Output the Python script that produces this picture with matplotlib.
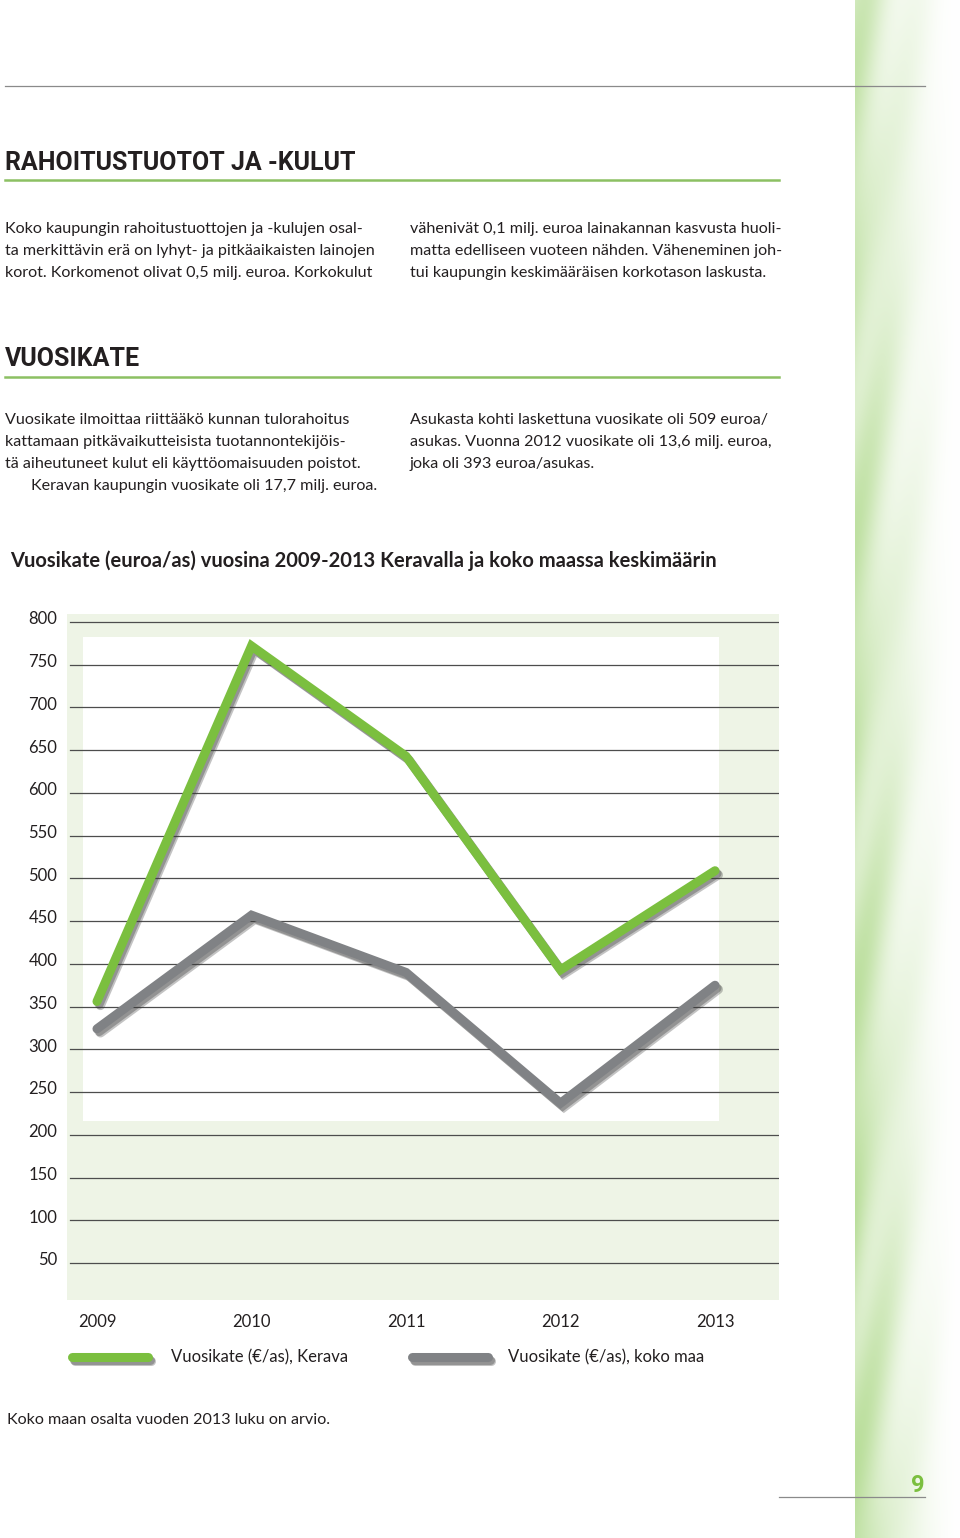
import numpy as np
import matplotlib
matplotlib.use("Agg")
import matplotlib.pyplot as plt
import matplotlib.patheffects as pe
from matplotlib.patches import Rectangle
from matplotlib.transforms import ScaledTranslation

# Chart data
years = [2009, 2010, 2011, 2012, 2013]
kerava = [356, 772, 643, 393, 509]
koko_maa = [324, 457, 390, 237, 375]
y_ticks = [50, 100, 150, 200, 250, 300, 350, 400, 450, 500, 550, 600, 650, 700, 750, 800]
series_labels = ["Vuosikate (€/as), Kerava", "Vuosikate (€/as), koko maa"]

TEXT = "#231f20"
GREEN = "#7bbf3f"
GRAY = "#808285"
BODY_FONT = ["Lato", "DejaVu Sans"]
HEAD_FONT = ["Roboto", "DejaVu Sans"]

fig = plt.figure(figsize=(9.6, 15.38), dpi=100)

# Page layer in pixel coordinates
page = fig.add_axes([0, 0, 1, 1])
page.set_xlim(0, 960)
page.set_ylim(1538, 0)
page.axis("off")

# Decorative green strip on the right edge
h, w = 1538, 105
yy, xx = np.mgrid[0:h, 0:w]
fade = np.clip(1 - xx / w, 0, 1) ** 1.6
streak = 0.75 + 0.25 * np.sin((xx + 0.18 * yy) / 9.0) * np.cos(yy / 140.0)
strength = np.clip(fade * streak * (0.75 + 0.25 * yy / h), 0, 1)
base = np.array([1.0, 1.0, 1.0])
tint = np.array([0.62, 0.82, 0.45])
img = base + (tint - base) * strength[..., None] * 0.85
page.imshow(img, extent=(855, 960, 1538, 0), aspect="auto", zorder=0)

# Rules
page.plot([5, 925], [86, 86], color="#8a8a8a", lw=0.9)
page.plot([5, 779], [180, 180], color="#8cc063", lw=1.8)
page.plot([5, 779], [377, 377], color="#8cc063", lw=1.8)
page.plot([779, 925], [1497, 1497], color="#8a8a8a", lw=0.9)

# Headings
page.text(5, 163, "RAHOITUSTUOTOT JA -KULUT", fontsize=18, fontweight="bold",
          family=HEAD_FONT, color=TEXT, va="center")
page.text(5, 359, "VUOSIKATE", fontsize=18, fontweight="bold",
          family=HEAD_FONT, color=TEXT, va="center")

body_kw = dict(fontsize=11.6, family=BODY_FONT, color=TEXT, va="center")
left1 = ["Koko kaupungin rahoitustuottojen ja -kulujen osal-",
         "ta merkittävin erä on lyhyt- ja pitkäaikaisten lainojen",
         "korot. Korkomenot olivat 0,5 milj. euroa. Korkokulut"]
right1 = ["vähenivät 0,1 milj. euroa lainakannan kasvusta huoli-",
          "matta edelliseen vuoteen nähden. Väheneminen joh-",
          "tui kaupungin keskimääräisen korkotason laskusta."]
for i, (a, b) in enumerate(zip(left1, right1)):
    page.text(5, 229 + 22 * i, a, **body_kw)
    page.text(410, 229 + 22 * i, b, **body_kw)

left2 = ["Vuosikate ilmoittaa riittääkö kunnan tulorahoitus",
         "kattamaan pitkävaikutteisista tuotannontekijöis-",
         "tä aiheutuneet kulut eli käyttöomaisuuden poistot."]
for i, a in enumerate(left2):
    page.text(5, 420 + 22 * i, a, **body_kw)
page.text(31, 486, "Keravan kaupungin vuosikate oli 17,7 milj. euroa.", **body_kw)
right2 = ["Asukasta kohti laskettuna vuosikate oli 509 euroa/",
          "asukas. Vuonna 2012 vuosikate oli 13,6 milj. euroa,",
          "joka oli 393 euroa/asukas."]
for i, b in enumerate(right2):
    page.text(410, 420 + 22 * i, b, **body_kw)

page.text(10, 561, "Vuosikate (euroa/as) vuosina 2009-2013 Keravalla ja koko maassa keskimäärin",
          fontsize=14.5, fontweight="bold", family=BODY_FONT, color=TEXT, va="center")

# Chart axes: 67..779 px wide, 614..1300 px tall
ax = fig.add_axes([67 / 960, 1 - 1300 / 1538, (779 - 67) / 960, (1300 - 614) / 1538])
ax.set_facecolor("#eef4e6")
ax.set_xlim(2008.806, 2013.414)
ax.set_ylim(6.7, 809.4)
for s in ax.spines.values():
    s.set_visible(False)

# Inner white panel
ax.add_patch(Rectangle((16 / 712, 179 / 686), 636 / 712, 484 / 686,
                       transform=ax.transAxes, facecolor="white", edgecolor="none", zorder=0.5))

for v in y_ticks:
    ax.axhline(v, xmin=3 / 712, xmax=1, color="#4d4d4d", lw=0.9, zorder=1)

ax.set_yticks(y_ticks)
ax.set_yticklabels([str(v) for v in y_ticks])
ax.set_xticks(years)
ax.set_xticklabels([str(y) for y in years])
ax.tick_params(axis="y", length=0, pad=7, labelsize=12, labelcolor=TEXT)
ax.tick_params(axis="x", length=0, pad=10, labelsize=12, labelcolor=TEXT)
for lab in ax.get_xticklabels() + ax.get_yticklabels():
    lab.set_family(BODY_FONT)
# labels sit a little above their grid lines in the original
lift = ScaledTranslation(0, 3 / 72, fig.dpi_scale_trans)
for lab in ax.get_yticklabels():
    lab.set_transform(lab.get_transform() + lift)

shadow = [pe.SimpleLineShadow(offset=(2.5, -3), shadow_color="#3a3a3a", alpha=0.3),
          pe.SimpleLineShadow(offset=(1.5, -2), shadow_color="#3a3a3a", alpha=0.35),
          pe.Normal()]
ax.plot(years, koko_maa, color=GRAY, lw=6.5, solid_joinstyle="miter",
        solid_capstyle="round", path_effects=shadow, zorder=3)
ax.plot(years, kerava, color=GREEN, lw=6.5, solid_joinstyle="miter",
        solid_capstyle="round", path_effects=shadow, zorder=4)

# Legend
page.plot([72, 148], [1357, 1357], color=GREEN, lw=6.5, solid_capstyle="round",
          path_effects=shadow, zorder=3)
page.plot([412, 488], [1357, 1357], color=GRAY, lw=6.5, solid_capstyle="round",
          path_effects=shadow, zorder=3)
page.text(171, 1357, series_labels[0], fontsize=12, family=BODY_FONT, color=TEXT, va="center")
page.text(508, 1357, series_labels[1], fontsize=12, family=BODY_FONT, color=TEXT, va="center")

page.text(7, 1420, "Koko maan osalta vuoden 2013 luku on arvio.", **body_kw)
page.text(918, 1485, "9", fontsize=17, fontweight="bold", family=HEAD_FONT,
          color=GREEN, ha="center", va="center")

fig.savefig("out.png", dpi=100)
